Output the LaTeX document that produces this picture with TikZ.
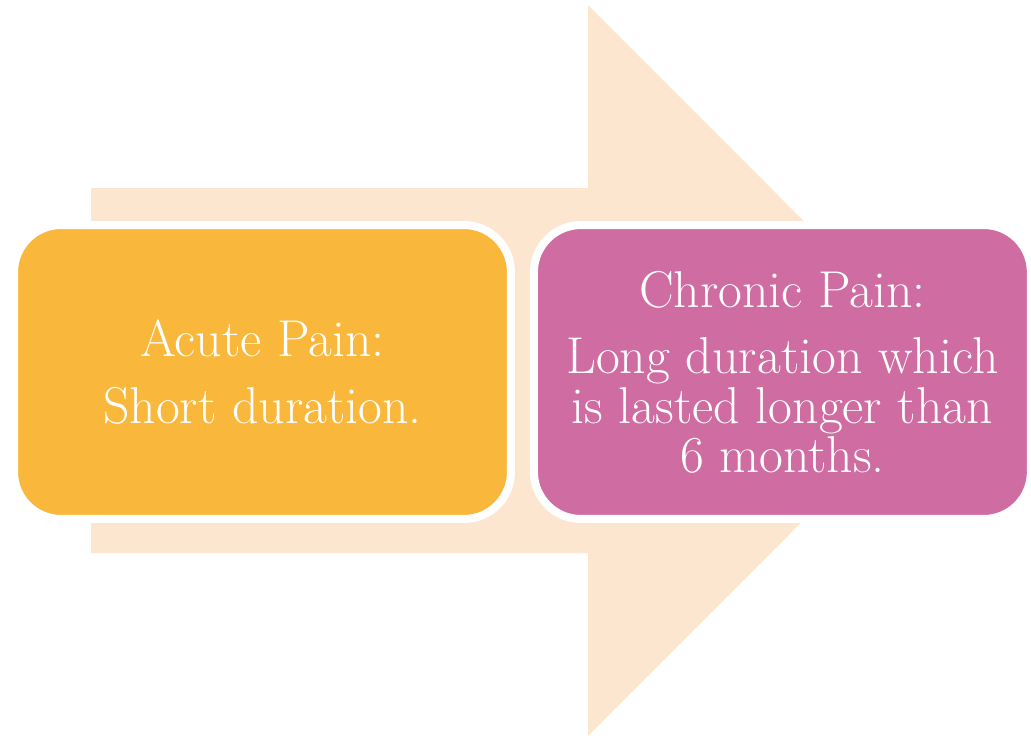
\documentclass[tikz,border=0pt]{standalone}
\usetikzlibrary{positioning}
\definecolor{juhuang}{RGB}{249,183,59}
\definecolor{fenhong}{RGB}{207,108,162}
\definecolor{xingse}{RGB}{253,230,208}
\tikzset{
	painbox/.style={draw=white, line width=0.16cm, rounded corners=0.94cm,
		minimum width=9.94cm, minimum height=5.88cm, inner sep=0pt,
		align=center, text=white, font=\fontsize{29.5}{28}\selectfont}
}

\begin{document}
\begin{tikzpicture}[x=0.02cm, y=-0.02cm]
		\useasboundingbox (0,0) rectangle (1031,738);
		% the big arrow behind the boxes
		\fill[xingse] (91,188) -- (588,188) -- (588,5) -- (953,370.5) -- (588,736) -- (588,553) -- (91,553) -- cycle;
		\node[painbox, fill=juhuang] (acute) at (262.5,372) {Acute Pain:\\[10pt] Short duration.};
		\node[painbox, fill=fenhong, right=0.3cm of acute] (chronic) {Chronic Pain:\\[10pt] Long duration which\\ is lasted longer than\\ 6 months.};
	\end{tikzpicture}
\end{document}
